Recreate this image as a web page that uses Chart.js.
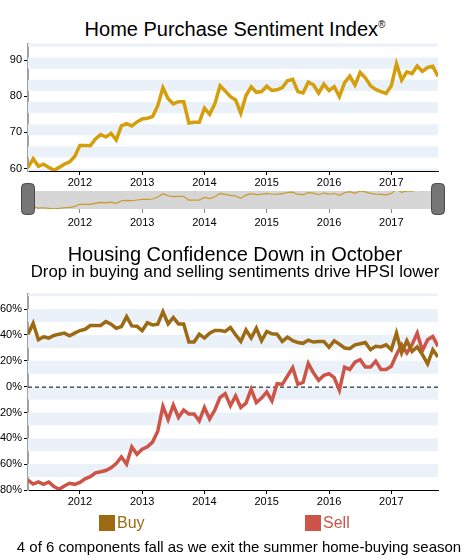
<!DOCTYPE html>
<html>
<head>
<meta charset="utf-8">
<script src="https://cdn.jsdelivr.net/npm/chart.js@4.4.1/dist/chart.umd.min.js"></script>
<style>
  body { margin: 0; background: #fff; font-family: 'Liberation Sans', Arial, sans-serif; }
  #page { position: relative; width: 470px; height: 560px; overflow: hidden; }
  canvas { position: absolute; left: 0; }
  .txt { position: absolute; left: 0; width: 470px; text-align: center; color: #000; white-space: nowrap; }
  .swatch { position: absolute; width: 16px; height: 16px; }
  .leg { position: absolute; font-size: 16px; line-height: 18px; }
</style>
</head>
<body>
<div id="page">
  <div class="txt" style="top:13px;font-size:20px;line-height:24px;">Home Purchase Sentiment Index<sup style="font-size:10px;">®</sup></div>
  <canvas id="hpsiChart" width="470" height="160" style="top:35px;"></canvas>
  <canvas id="navChart" width="470" height="55" style="top:178px;"></canvas>
  <div class="txt" style="top:242px;font-size:20px;line-height:24px;">Housing Confidence Down in October</div>
  <div class="txt" style="top:262px;font-size:16.8px;line-height:20px;">Drop in buying and selling sentiments drive HPSI lower</div>
  <canvas id="confChart" width="470" height="225" style="top:285px;"></canvas>
  <div class="swatch" style="left:99px;top:515px;background:#9b6a12;"></div>
  <div class="leg" style="left:117px;top:514px;color:#9b6a12;">Buy</div>
  <div class="swatch" style="left:305px;top:515px;background:#cc5548;"></div>
  <div class="leg" style="left:323px;top:514px;color:#cc5548;">Sell</div>
  <div class="txt" style="top:537px;left:4px;font-size:15px;line-height:20px;">4 of 6 components fall as we exit the summer home-buying season</div>
</div>
<script>
// monthly readings, March 2011 .. October 2017
const startYear = 2011;
const startMonth = 3;

const hpsi = [
  60.3, 62.7, 60.6, 61.2, 60.3, 59.5, 60.3, 61.2, 61.8, 63.3,
  66.4, 66.4, 66.3, 68.2, 69.4, 68.7, 69.7, 67.9, 71.8, 72.4,
  71.8, 72.9, 73.7, 73.9, 74.4, 77.4, 82.4, 79.3, 77.9, 78.5,
  78.5, 72.6, 72.8, 72.8, 76.7, 75.0, 77.9, 82.9, 81.5, 79.9,
  79.0, 75.3, 80.2, 82.6, 81.1, 81.3, 82.8, 81.6, 81.8, 82.4,
  84.3, 84.7, 81.3, 80.9, 83.9, 83.2, 80.9, 83.4, 81.6, 82.7,
  79.9, 83.8, 85.6, 83.1, 86.6, 85.1, 82.9, 81.9, 81.3, 80.8,
  82.9, 89.0, 84.5, 86.8, 86.3, 88.4, 86.9, 88.0, 88.3, 85.5
];

const buy = [
  40.6, 49.0, 36.3, 38.6, 37.6, 39.6, 40.6, 41.4, 39.3, 41.4,
  43.4, 44.4, 47.3, 47.3, 47.3, 50.3, 48.3, 45.2, 46.5, 54.2,
  47.0, 46.7, 43.4, 49.5, 47.8, 48.3, 58.0, 48.5, 53.5, 48.5,
  48.5, 34.5, 34.5, 40.6, 37.6, 41.4, 43.4, 43.4, 42.7, 45.7,
  40.1, 35.0, 43.9, 37.6, 45.2, 35.5, 42.7, 40.9, 40.6, 35.0,
  38.3, 35.5, 34.2, 33.5, 36.0, 34.5, 35.0, 35.0, 30.4, 35.5,
  32.9, 29.9, 29.4, 32.4, 33.2, 34.2, 28.6, 31.2, 30.7, 32.4,
  28.6, 41.5, 26.1, 35.5, 27.3, 30.7, 24.8, 17.6, 28.6, 23.0
];

const sell = [
  -72.3, -75.4, -73.8, -75.6, -73.8, -77.4, -79.4, -76.9, -74.8, -75.6,
  -74.1, -71.3, -69.7, -66.7, -65.9, -64.9, -62.8, -59.5, -54.4, -60.0,
  -46.7, -52.4, -48.5, -46.5, -42.9, -34.5, -15.3, -25.5, -14.2, -23.8,
  -18.1, -21.2, -21.2, -26.5, -16.1, -25.0, -18.1, -8.4, -5.4, -14.8,
  -7.2, -16.1, -12.8, -2.0, -12.3, -8.9, -4.1, -11.0, 2.3, 1.8,
  8.2, 14.6, 1.8, 3.3, 18.0, 10.7, 4.9, 8.7, 10.0, 6.9,
  -2.8, 15.1, 13.3, 18.9, 20.9, 15.1, 15.1, 19.7, 13.3, 13.3,
  15.8, 24.8, 32.4, 26.1, 32.4, 41.4, 27.8, 36.3, 38.8, 31.2
];

const yearTicks = [2012, 2013, 2014, 2015, 2016, 2017];
const hpsiTicks = [60, 70, 80, 90];
const shareTicks = [-80, -60, -40, -20, 0, 20, 40, 60];

const GOLD = '#d59f0c';
const BUY = '#9b6a12';
const SELL = '#cc5548';
const STRIPE = '#ebf1f9';
const FONT = "'Liberation Sans', Arial, sans-serif";

// month index -> decimal year
const toX = i => startYear + (startMonth - 1 + i) / 12;
const xMin = toX(0);
const xMax = toX(hpsi.length - 1);
const pts = arr => arr.map((v, i) => ({ x: toX(i), y: v }));

Chart.defaults.font.family = FONT;
Chart.defaults.color = '#000';
Chart.defaults.animation = false;

const xAxis = (extra) => Object.assign({
  type: 'linear',
  min: xMin,
  max: xMax,
  afterBuildTicks: s => { s.ticks = yearTicks.map(v => ({ value: v })); },
  ticks: { font: { size: 11 }, padding: 1, maxRotation: 0, callback: v => String(v) },
  grid: { drawOnChartArea: false, tickLength: 4, color: '#000' },
  border: { color: '#000', width: 1 }
}, extra);

const yAxis = (min, max, tickVals, fmt) => ({
  min: min,
  max: max,
  afterBuildTicks: s => { s.ticks = tickVals.map(v => ({ value: v })); },
  afterFit: s => { s.width = 28; },
  ticks: { font: { size: 11 }, padding: 2, callback: fmt },
  grid: { drawOnChartArea: false, tickLength: 4, color: '#000' },
  border: { color: '#a0a0a0', width: 2 }
});

// alternating light bands behind the lines
const pixelStripes = {
  id: 'pixelStripes',
  beforeDatasetsDraw(chart, args, opts) {
    const a = chart.chartArea, ctx = chart.ctx;
    ctx.save();
    ctx.beginPath();
    ctx.rect(a.left, a.top, a.right - a.left, a.bottom - a.top);
    ctx.clip();
    ctx.fillStyle = STRIPE;
    for (let y = a.top + opts.offset - opts.period; y < a.bottom; y += opts.period) {
      ctx.fillRect(a.left, y, a.right - a.left, opts.period / 2);
    }
    ctx.restore();
  }
};

const valueStripes = {
  id: 'valueStripes',
  beforeDatasetsDraw(chart, args, opts) {
    const a = chart.chartArea, ctx = chart.ctx, y = chart.scales.y;
    ctx.save();
    ctx.beginPath();
    ctx.rect(a.left, a.top, a.right - a.left, a.bottom - a.top);
    ctx.clip();
    ctx.fillStyle = STRIPE;
    for (let v = 80; v > -80; v -= 20) {
      const top = y.getPixelForValue(v), bot = y.getPixelForValue(v - 10);
      ctx.fillRect(a.left, top, a.right - a.left, bot - top);
    }
    // dashed zero line
    const z = y.getPixelForValue(0);
    ctx.strokeStyle = '#000';
    ctx.lineWidth = 1;
    ctx.setLineDash([4, 3]);
    ctx.beginPath();
    ctx.moveTo(a.left, z + 0.5);
    ctx.lineTo(a.right, z + 0.5);
    ctx.stroke();
    ctx.restore();
  }
};

const navBox = {
  id: 'navBox',
  beforeDatasetsDraw(chart) {
    const a = chart.chartArea, ctx = chart.ctx;
    ctx.fillStyle = '#d6d6d6';
    ctx.fillRect(a.left, a.top, a.right - a.left, a.bottom - a.top);
  },
  afterDraw(chart) {
    const a = chart.chartArea, ctx = chart.ctx;
    ctx.save();
    ctx.fillStyle = '#767676';
    ctx.strokeStyle = '#4a4a4a';
    ctx.lineWidth = 1;
    [a.left, a.right].forEach(cx => {
      ctx.beginPath();
      ctx.roundRect(cx - 6.5, 5.5, 13, 31, 4);
      ctx.fill();
      ctx.stroke();
    });
    ctx.restore();
  }
};

new Chart(document.getElementById('hpsiChart'), {
  type: 'line',
  data: {
    datasets: [{
      data: pts(hpsi),
      borderColor: GOLD,
      borderWidth: 3.5,
      pointRadius: 0,
      tension: 0
    }]
  },
  options: {
    responsive: false,
    layout: { padding: { top: 8.3, right: 32, left: 0, bottom: 0 } },
    plugins: { legend: { display: false }, tooltip: { enabled: false }, pixelStripes: { offset: 14, period: 22.2 } },
    scales: {
      x: xAxis({ afterFit: s => { s.height = 24; } }),
      y: yAxis(59.3, 94.6, hpsiTicks, v => String(v))
    }
  },
  plugins: [pixelStripes]
});

new Chart(document.getElementById('navChart'), {
  type: 'line',
  data: {
    datasets: [{
      data: pts(hpsi),
      borderColor: '#c99a2a',
      borderWidth: 1.2,
      pointRadius: 0,
      tension: 0
    }]
  },
  options: {
    responsive: false,
    layout: { padding: { top: 13, right: 32, left: 28, bottom: 0 } },
    plugins: { legend: { display: false }, tooltip: { enabled: false } },
    scales: {
      x: xAxis({
        afterFit: s => { s.height = 24; },
        ticks: { font: { size: 11 }, padding: 3, maxRotation: 0, callback: v => String(v) },
        grid: { drawOnChartArea: false, tickLength: 4, color: '#888' },
        border: { display: false }
      }),
      y: { display: false, min: 59.3, max: 86.5 }
    }
  },
  plugins: [navBox]
});

new Chart(document.getElementById('confChart'), {
  type: 'line',
  data: {
    datasets: [
      { label: 'Buy', data: pts(buy), borderColor: BUY, borderWidth: 3.5, pointRadius: 0, tension: 0 },
      { label: 'Sell', data: pts(sell), borderColor: SELL, borderWidth: 3.5, pointRadius: 0, tension: 0 }
    ]
  },
  options: {
    responsive: false,
    layout: { padding: { top: 6, right: 32, left: 0, bottom: 0 } },
    plugins: { legend: { display: false }, tooltip: { enabled: false } },
    scales: {
      x: xAxis({ afterFit: s => { s.height = 20; } }),
      y: yAxis(-80, 72, shareTicks, v => v + '%')
    }
  },
  plugins: [valueStripes]
});
</script>
</body>
</html>
